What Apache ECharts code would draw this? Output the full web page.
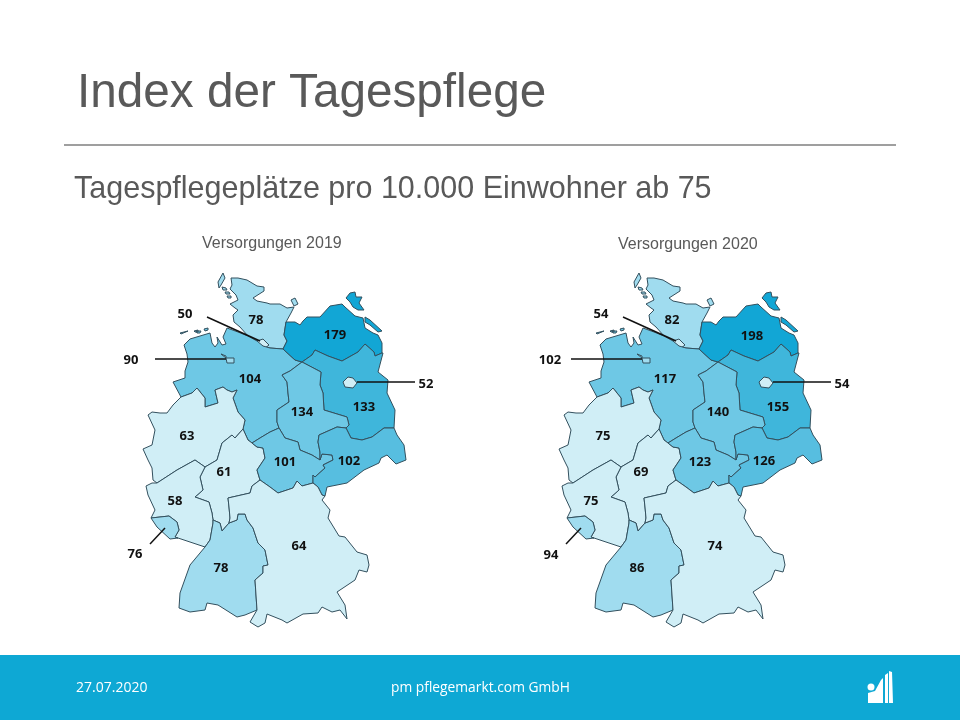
<!DOCTYPE html>
<html>
<head>
<meta charset="utf-8">
<title>Index der Tagespflege</title>
<style>html,body{margin:0;padding:0;background:#fff}#chart{width:960px;height:720px}</style>
<script src="https://cdn.jsdelivr.net/npm/echarts@6/dist/echarts.min.js"></script>
</head>
<body>
<div id="chart"></div>
<script>
// values per Bundesland
const states = ['Schleswig-Holstein', 'Hamburg', 'Niedersachsen', 'Bremen', 'Mecklenburg-Vorpommern', 'Brandenburg', 'Berlin', 'Sachsen-Anhalt', 'Nordrhein-Westfalen', 'Hessen', 'Thüringen', 'Sachsen', 'Rheinland-Pfalz', 'Saarland', 'Baden-Württemberg', 'Bayern'];
const values2019 = [78, 50, 104, 90, 179, 133, 52, 134, 63, 61, 101, 102, 58, 76, 78, 64];
const values2020 = [82, 54, 117, 102, 198, 155, 54, 140, 75, 69, 123, 126, 75, 94, 86, 74];
// colour class of each state, the slide does not follow the value strictly
const classes2019 = [1, 0, 2, 1, 5, 4, 0, 2, 0, 0, 2, 3, 0, 1, 1, 0];
const classes2020 = [1, 0, 2, 1, 5, 4, 0, 2, 0, 0, 2, 3, 0, 1, 1, 0];
const palette = ['#d0eef6', '#a0dcef', '#6ec8e5', '#57bee0', '#3fb6db', '#12a6d5'];

// value label anchors in map units
const labelAnchors2019 = [[256, 320], [185, 314], [250, 379], [131, 360], [335, 335], [364, 407], [426, 384], [302, 412], [187, 436], [224, 472], [285, 462], [349, 461], [175, 501], [135, 554], [221, 568], [299, 546]];
const labelAnchors2020 = [[256, 320], [185, 314], [249, 379], [134, 360], [336, 336], [362, 407], [426, 384], [302, 412], [187, 436], [225, 472], [284, 462], [348, 461], [175, 501], [135, 555], [221, 568], [299, 546]];
// leader lines for the small states
const leaders = [
    [[207, 317], [260, 341]],
    [[155, 359], [226, 359]],
    [[357, 382], [415, 382]],
    [[165, 528], [150, 544]]
];

// shared borders, in map units
const ELBE = [[248, 336], [257, 341], [263, 346], [270, 348], [283, 349]];
const SH_MV = [[283, 349], [287, 341], [284, 335], [286, 322]];
const MV_BB = [[382, 353], [375, 356], [374, 352], [365, 344], [358, 352], [342, 361], [328, 356], [315, 350], [312, 355], [302, 362]];
const MV_NI = [[302, 362], [295, 360], [283, 349]];
const NI_ST = [[302, 362], [290, 371], [282, 375], [287, 382], [288, 393], [289, 402], [277, 410], [277, 422], [279, 428]];
const NI_TH = [[279, 428], [270, 432], [260, 438], [252, 443]];
const NI_HE = [[252, 443], [248, 440], [243, 429]];
const NI_NW = [[243, 429], [245, 420], [238, 412], [233, 398], [237, 390], [232, 392], [227, 390], [223, 387], [215, 390], [218, 403], [205, 407], [205, 398], [197, 388], [192, 393], [181, 397]];
const NW_HE = [[243, 429], [235, 438], [232, 435], [222, 443], [217, 460], [205, 467]];
const NW_RP = [[205, 467], [195, 460], [186, 465], [177, 470], [157, 483]];
const HE_TH = [[252, 443], [257, 447], [263, 448], [265, 458], [257, 470], [260, 480]];
const HE_BY = [[260, 480], [252, 486], [250, 493], [228, 498], [229, 507], [230, 518], [229, 523]];
const HE_BW = [[229, 523], [222, 531], [220, 523], [213, 520]];
const HE_RP = [[213, 520], [212, 513], [209, 502], [195, 497], [203, 490], [200, 477], [205, 467]];
const RP_SL = [[151, 518], [160, 517], [169, 516], [177, 522], [179, 530], [175, 537], [178, 538]];
const RP_BW = [[178, 538], [205, 547], [210, 540], [213, 523], [213, 520]];
const BY_BW = [[229, 523], [237, 520], [238, 514], [245, 514], [247, 520], [253, 528], [258, 543], [265, 550], [268, 565], [263, 566], [263, 573], [255, 580], [257, 610]];
const TH_BY = [[313, 483], [302, 486], [297, 481], [293, 488], [278, 493], [270, 487], [260, 480]];
const SN_BY = [[313, 483], [318, 487], [322, 495], [325, 496]];
const TH_ST = [[279, 428], [285, 438], [298, 442], [300, 450], [312, 455], [320, 460]];
const TH_SN = [[320, 460], [322, 454], [332, 455], [333, 460], [323, 465], [325, 468], [315, 477], [313, 475], [313, 483]];
const ST_SN = [[320, 460], [320, 452], [318, 442], [319, 435], [337, 427], [346, 428]];
const SN_BB = [[346, 428], [351, 438], [362, 440], [372, 437], [384, 428], [394, 428]];
const BB_ST = [[302, 362], [321, 372], [320, 385], [323, 393], [324, 410], [347, 417], [349, 425], [346, 428]];

const rev = chain => chain.slice().reverse();
const ring = (...parts) => {
    const pts = [].concat(...parts);
    return pts.concat([pts[0]]);
};

// outer coasts and frontiers
const shCoast = [[291, 313], [294, 307], [287, 308], [280, 304], [270, 304], [267, 303], [257, 301], [253, 298], [264, 291], [264, 287], [257, 286], [247, 280], [238, 278], [231, 278], [232, 285], [230, 289], [236, 295], [238, 300], [230, 304], [235, 308], [238, 310], [233, 315], [234, 322], [240, 327]];
const mvCoast = [[295, 322], [300, 325], [303, 321], [307, 317], [320, 317], [330, 306], [342, 304], [345, 307], [355, 316], [363, 318], [365, 328], [373, 333], [378, 335], [382, 343]];
const niCoast = [[173, 382], [185, 378], [185, 371], [188, 362], [187, 354], [184, 345], [190, 339], [210, 333], [212, 343], [215, 347], [218, 343], [217, 337], [222, 345], [226, 344], [223, 337], [227, 328], [238, 332]];
const nwWest = [[153, 480], [152, 468], [148, 460], [143, 449], [152, 445], [155, 430], [148, 415], [152, 412], [160, 413], [167, 413], [173, 405]];
const rpWest = [[152, 483], [146, 486], [148, 495], [155, 510]];
const slSouth = [[170, 539], [157, 527]];
const bwSouth = [[190, 565], [180, 593], [179, 608], [190, 612], [205, 610], [207, 603], [218, 605], [237, 617], [245, 615]];
const byOuter = [[250, 622], [258, 627], [265, 623], [267, 614], [282, 620], [287, 623], [303, 614], [318, 613], [322, 607], [332, 612], [340, 610], [347, 619], [345, 605], [337, 592], [355, 580], [359, 570], [367, 572], [369, 565], [367, 555], [357, 552], [345, 537], [339, 536], [328, 518], [330, 510], [322, 500]];
const snEast = [[397, 435], [404, 445], [406, 460], [396, 464], [387, 455], [381, 458], [379, 463], [364, 470], [347, 483], [327, 487]];
const bbEast = [[395, 410], [387, 393], [388, 380], [378, 372], [383, 353]];

// islands
const shIslands = [
    [[223, 273], [225, 278], [221, 285], [219, 288], [218, 282], [223, 273]],
    [[222, 287], [226, 288], [227, 290], [223, 290], [222, 287]],
    [[225, 292], [229, 292], [230, 294], [226, 294], [225, 292]],
    [[227, 296], [231, 296], [231, 298], [228, 298], [227, 296]],
    [[291, 300], [295, 298], [298, 304], [294, 306], [291, 300]]
];
const niIslands = [
    [[180, 333], [188, 331], [189, 332], [181, 334], [180, 333]],
    [[194, 331], [198, 330], [198, 332], [195, 332], [194, 331]],
    [[196, 331], [201, 331], [200, 333], [197, 333], [196, 331]],
    [[204, 329], [208, 328], [208, 330], [205, 331], [204, 329]]
];
const mvIslands = [
    [[350, 293], [355, 292], [356, 297], [362, 297], [359, 303], [364, 310], [358, 310], [353, 307], [350, 302], [346, 298], [350, 293]],
    [[365, 317], [370, 320], [382, 331], [378, 332], [370, 325], [365, 322], [365, 317]]
];

// one ring list per state, same order as states
const outlines = [
    [ring(ELBE, SH_MV.slice(1), shCoast)].concat(shIslands),
    [ring([[257, 341], [263, 339], [269, 345], [265, 348], [258, 345]])],
    [ring(ELBE, rev(MV_NI).slice(1), NI_ST.slice(1), NI_TH.slice(1), NI_HE.slice(1), NI_NW.slice(1), niCoast)].concat(niIslands),
    [ring([[226, 358], [234, 358], [234, 363], [227, 363]]), ring([[221, 354], [226, 356], [226, 358]])],
    [ring(SH_MV, mvCoast, MV_BB, MV_NI.slice(1))].concat(mvIslands),
    [ring(MV_BB, BB_ST.slice(1), SN_BB.slice(1), bbEast)],
    [ring([[343, 382], [348, 377], [353, 378], [357, 383], [353, 388], [345, 387]])],
    [ring(BB_ST, rev(ST_SN).slice(1), rev(TH_ST).slice(1), rev(NI_ST).slice(1))],
    [ring(rev(NI_NW), NW_HE.slice(1), NW_RP.slice(1), nwWest)],
    [ring(rev(NI_HE), HE_TH.slice(1), HE_BY.slice(1), HE_BW.slice(1), HE_RP.slice(1), rev(NW_HE).slice(1))],
    [ring(rev(NI_TH), TH_ST.slice(1), TH_SN.slice(1), TH_BY.slice(1), rev(HE_TH).slice(1))],
    [ring(rev(TH_SN), ST_SN.slice(1), SN_BB.slice(1), snEast, rev(SN_BY))],
    [ring(rpWest, RP_SL, RP_BW.slice(1), HE_RP.slice(1), NW_RP.slice(1))],
    [ring(RP_SL, slSouth)],
    [ring(rev(RP_BW).slice(0, 4), bwSouth, rev(BY_BW), HE_BW.slice(1))],
    [ring(BY_BW, byOuter, rev(SN_BY), TH_BY.slice(1), HE_BY.slice(1))]
];

function germany(anchors) {
    return {
        type: 'FeatureCollection',
        features: states.map((name, i) => ({
            type: 'Feature',
            properties: { name: name, cp: anchors[i] },
            geometry: { type: 'MultiPolygon', coordinates: outlines[i].map(r => [r]) }
        }))
    };
}
// two names, ECharts merges map series that share one
echarts.registerMap('germany2019', germany(labelAnchors2019));
echarts.registerMap('germany2020', germany(labelAnchors2020));

const allPts = [].concat(...outlines.map(o => [].concat(...o)));
const minX = Math.min(...allPts.map(p => p[0]));
const maxX = Math.max(...allPts.map(p => p[0]));
const minY = Math.min(...allPts.map(p => p[1]));
const maxY = Math.max(...allPts.map(p => p[1]));
const box = shift => ({ left: minX + shift, top: minY, width: maxX - minX, height: maxY - minY });
const flat = { project: p => p, unproject: p => p };
const rightShift = 416;

const labelStyle = {
    show: true,
    formatter: '{c}',
    fontFamily: '"Noto Sans"',
    fontWeight: 'bold',
    fontSize: 13,
    color: '#111'
};

function mapSeries(mapName, values, classes, shift) {
    return Object.assign({
        type: 'map',
        map: mapName,
        projection: flat,
        roam: false,
        silent: true,
        showLegendSymbol: false,
        label: labelStyle,
        itemStyle: { borderColor: '#33505e', borderWidth: 1 },
        data: states.map((name, i) => ({
            name: name,
            value: values[i],
            itemStyle: { areaColor: palette[classes[i]] }
        }))
    }, box(shift));
}

function leaderSeries(geoIndex) {
    return {
        type: 'lines',
        coordinateSystem: 'geo',
        geoIndex: geoIndex,
        silent: true,
        z: 5,
        lineStyle: { color: '#111', width: 1.5, opacity: 1, curveness: 0 },
        data: leaders.map(l => ({ coords: l }))
    };
}

const textFont = { fontFamily: '"Liberation Sans"', fontWeight: 'normal', color: '#595959' };

const chart = echarts.init(document.getElementById('chart'));
chart.setOption({
    animation: false,
    backgroundColor: '#fff',
    title: [
        { text: 'Index der Tagespflege', left: 72, top: 65, textStyle: Object.assign({ fontSize: 47.7 }, textFont) },
        { text: 'Tagespflegeplätze pro 10.000 Einwohner ab 75', left: 69, top: 169, textStyle: Object.assign({ fontSize: 30.5 }, textFont) },
        { text: 'Versorgungen 2019', left: 197, top: 231, textStyle: Object.assign({ fontSize: 16 }, textFont) },
        { text: 'Versorgungen 2020', left: 613, top: 232, textStyle: Object.assign({ fontSize: 16 }, textFont) }
    ],
    geo: [
        Object.assign({ map: 'germany2019', show: false, silent: true, roam: false, projection: flat }, box(0)),
        Object.assign({ map: 'germany2020', show: false, silent: true, roam: false, projection: flat }, box(rightShift))
    ],
    series: [
        mapSeries('germany2019', values2019, classes2019, 0),
        mapSeries('germany2020', values2020, classes2020, rightShift),
        leaderSeries(0),
        leaderSeries(1)
    ],
    graphic: [
        { type: 'line', shape: { x1: 64, y1: 145, x2: 896, y2: 145 }, style: { stroke: '#7f7f7f', lineWidth: 1.5 } },
        { type: 'rect', shape: { x: 0, y: 655, width: 960, height: 65 }, style: { fill: '#0ea8d4' } },
        { type: 'text', left: 76, top: 681, style: { text: '27.07.2020', fill: '#fff', font: '14px "Open Sans"' } },
        { type: 'text', left: 391, top: 681, style: { text: 'pm pflegemarkt.com GmbH', fill: '#fff', font: '13.8px "Open Sans"' } },
        { type: 'circle', shape: { cx: 871, cy: 687, r: 3.5 }, style: { fill: '#fff' } },
        { type: 'polygon', shape: { points: [[868, 703], [868, 693], [875, 691], [881, 680], [883, 678], [883, 703]] }, style: { fill: '#fff' } },
        { type: 'polygon', shape: { points: [[885, 675], [888, 673], [888, 703], [885, 703]] }, style: { fill: '#fff' } },
        { type: 'polygon', shape: { points: [[889, 671], [892, 672], [893, 703], [889, 703]] }, style: { fill: '#fff' } }
    ]
});
window.addEventListener('resize', () => chart.resize());
</script>
</body>
</html>
